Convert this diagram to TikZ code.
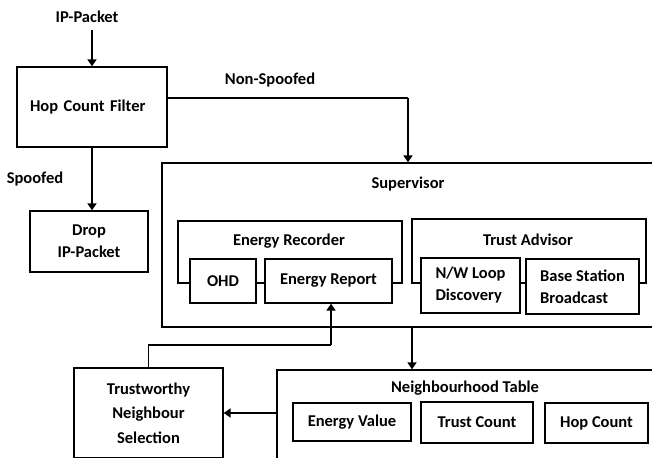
\documentclass[tikz,border=0pt]{standalone}
\usepackage{fontspec}
\setmainfont{Carlito}
\usetikzlibrary{arrows.meta}

\begin{document}
\begin{tikzpicture}[x=1pt,y=-1pt]
   \tikzstyle{box} = [rectangle, draw, line width=1.3pt, fill=white, inner sep=0pt, align=center, font=\fontsize{16.5}{22}\selectfont\bfseries]
   \tikzstyle{label} = [inner sep=0pt, align=center, font=\fontsize{16.5}{22}\selectfont\bfseries]
   \tikzstyle{wire} = [line width=1.3pt]
   \tikzstyle{flow} = [line width=2.6pt, -{Triangle[width=9pt,length=7pt]}]

   \useasboundingbox (0,0) rectangle (652,457);

      % outer frames
      \draw
        (411,245) node[box, minimum width=498pt, minimum height=164pt] (sup){}
        (290,252) node[box, minimum width=224pt, minimum height=62pt] (er){}
        (529,251) node[box, minimum width=234pt, minimum height=64pt] (ta){}
        (473.5,425) node[box, minimum width=393pt, minimum height=110pt] (nt){};

      \draw
        (87,17) node[label] (ippkt){IP-Packet}
        (92,107) node[box, minimum width=150pt, minimum height=80pt, text width=124pt, align=left] (hcf){Hop Count Filter}
        (89,241.5) node[box, minimum width=118pt, minimum height=61pt] (drop){Drop\\IP-Packet}
        (408,184) node[label] (suptitle){Supervisor}
        (289,241) node[label] (ertitle){Energy Recorder}
        (528,240) node[label] (tatitle){Trust Advisor}
        (223,281) node[box, minimum width=66pt, minimum height=44pt] (ohd){OHD}
        (328.5,281) node[box, minimum width=127pt, minimum height=44pt] (erep){Energy Report}
        (470.5,285.5) node[box, minimum width=99pt, minimum height=55pt, align=left] (nwl){N/W Loop\\Discovery}
        (582.5,286.5) node[box, minimum width=113pt, minimum height=55pt, align=left] (bsb){Base Station\\Broadcast}
        (148.5,413) node[box, minimum width=149pt, minimum height=90pt, font=\fontsize{16.5}{24.5}\selectfont\bfseries] (tns){Trustworthy\\Neighbour\\Selection}
        (465,388) node[label] (nttitle){Neighbourhood Table}
        (352,422) node[box, minimum width=118pt, minimum height=38pt] (ev){Energy Value}
        (477,422.5) node[box, minimum width=112pt, minimum height=41pt] (tc){Trust Count}
        (596.5,423) node[box, minimum width=103pt, minimum height=40pt] (hc){Hop Count}
        (270,80) node[label] (nonsp){Non-Spoofed}
        (35,179) node[label] (sp){Spoofed};

      \coordinate (turn) at (408,98);
      \coordinate (bend) at (331,345);

  \begin{scope}
    \draw[flow] (92,30) -- (hcf.north -| 92,0);
    \draw[wire] (hcf.east |- turn) -- (turn);
    \draw[flow] (turn) -- (sup.north -| turn);
    \draw[flow] (hcf.south) -- (drop.north -| hcf.south);
    \draw[wire] (tns.north) |- (bend);
    \draw[flow] (bend) -- (erep.south -| bend);
    \draw[flow] (sup.south -| 412,0) -- (nt.north -| 412,0);
    \draw[flow] (nt.west |- 0,413) -- (tns.east |- 0,413);
  \end{scope}
\end{tikzpicture}
\end{document}
